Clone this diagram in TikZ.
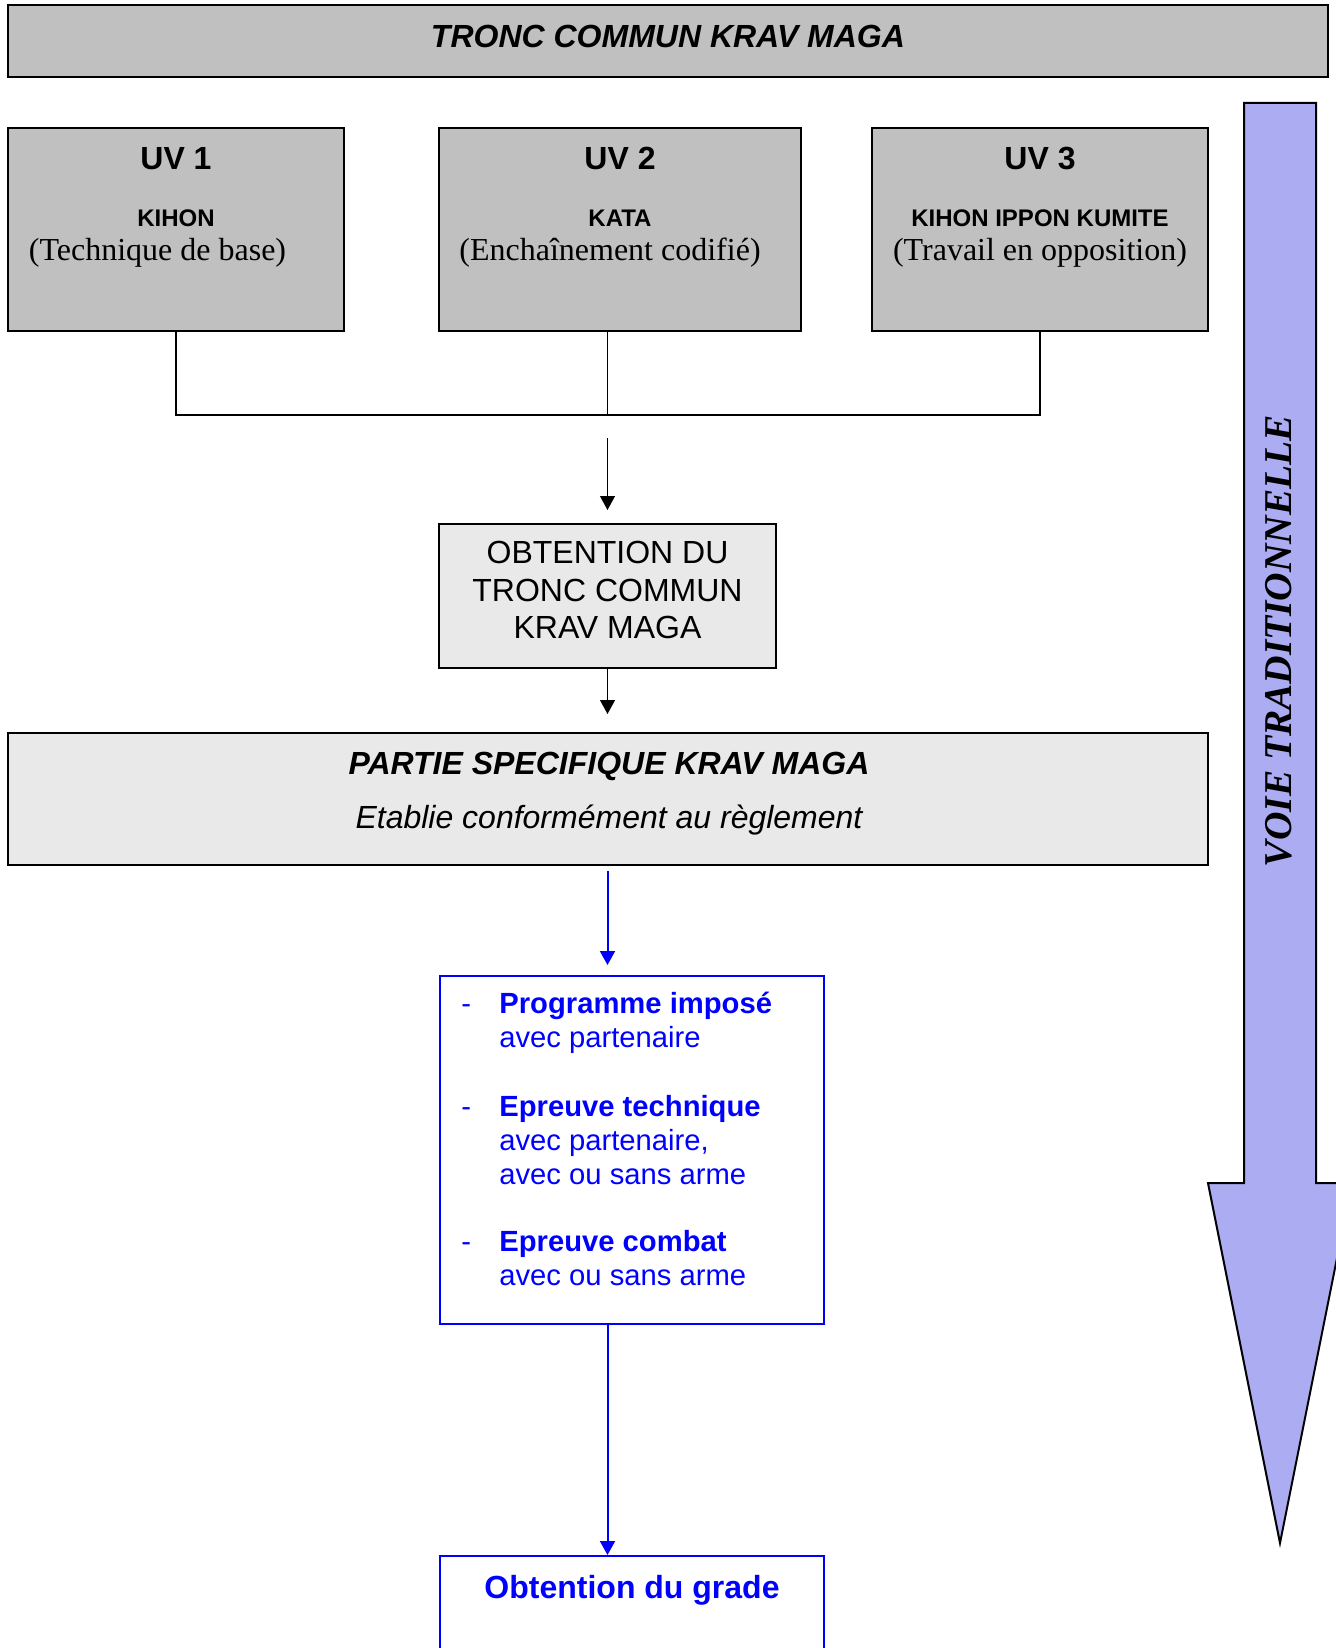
\documentclass[tikz,border=0pt]{standalone}
\usepackage{fontspec}
\setmainfont{Liberation Serif}
\setsansfont{Liberation Sans}
\usetikzlibrary{fit,arrows.meta}

\definecolor{grisfonce}{RGB}{192,192,192}
\definecolor{grisclair}{RGB}{233,233,233}
\definecolor{bleuvoie}{RGB}{172,172,243}

\tikzset{
  boitegrise/.style={draw=black, line width=1pt, fill=grisfonce, inner sep=0pt},
  boiteclaire/.style={draw=black, line width=1pt, fill=grisclair, inner sep=0pt},
  boitebleue/.style={draw=blue, line width=1pt, inner sep=0pt},
  fleche/.style={-{Triangle[length=7pt,width=7.5pt]}, line width=0.65pt},
  flechebleue/.style={blue, -{Triangle[length=7pt,width=7.5pt]}, line width=1pt},
  uvtitre/.style={anchor=base, inner sep=0pt, font={\sffamily\bfseries\fontsize{16}{19}\selectfont}},
  uvnom/.style={anchor=base, inner sep=0pt, font={\sffamily\bfseries\fontsize{12}{14}\selectfont}},
  uvdetail/.style={anchor=base, inner sep=0pt, font={\fontsize{16}{19}\selectfont}},
  titrebleu/.style={anchor=base west, inner sep=0pt, blue, font={\sffamily\bfseries\fontsize{14.6}{17}\selectfont}},
  textebleu/.style={anchor=base west, inner sep=0pt, blue, font={\sffamily\fontsize{14.6}{17}\selectfont}},
}

\begin{document}
\begin{tikzpicture}[x=0.5pt,y=-0.5pt]
\useasboundingbox (0,0) rectangle (1335,1648);

% bandeau du haut
\node[boitegrise, line width=1.25pt, fit={(8,5) (1328,77)}] (titre) {};
\node[anchor=base, inner sep=0pt, font={\sffamily\bfseries\itshape\fontsize{16}{19}\selectfont}] (titre-txt) at (668,48) {TRONC COMMUN KRAV MAGA};

% les trois UV
\foreach \i/\xa/\xb/\xd/\nom/\detail in {1/8/344/157.5/KIHON/Technique de base, 2/439/801/610/KATA/Enchaînement codifié, 3/872/1208/1040/KIHON IPPON KUMITE/Travail en opposition} {
\pgfmathsetmacro{\xc}{(\xa+\xb)/2}
\node[boitegrise, fit={(\xa,128) (\xb,331)}] (uv\i) {};
\node[uvtitre] (uv\i-titre) at (\xc,170) {UV \i};
\node[uvnom] (uv\i-nom) at (\xc,227) {\nom};
\node[uvdetail] (uv\i-detail) at (\xd,261) {(\detail)};
}

% tronc commun
\node[boiteclaire, fit={(439,524) (776,668)}] (obt) {};
\node[align=center, font={\sffamily\fontsize{16}{18.75}\selectfont}] (obt-txt) at (607.5,590) {OBTENTION DU\\TRONC COMMUN\\KRAV MAGA};

\coordinate (jonction) at (607.5,415);
\coordinate (depart) at (607.5,438);
\draw[line width=0.8pt] (uv1.south) -- (uv1.south |- jonction) -- (uv3.south |- jonction) -- (uv3.south);
\draw[line width=0.8pt] (jonction |- uv2.south) -- (jonction);
\draw[fleche, shorten >=6.5pt] (depart) -- (obt.north);

% partie specifique
\node[boiteclaire, fit={(8,733) (1208,865)}] (partie) {};
\node[anchor=base, inner sep=0pt, font={\sffamily\bfseries\itshape\fontsize{16}{19}\selectfont}] (partie-titre) at (609,774) {PARTIE SPECIFIQUE KRAV MAGA};
\node[anchor=base, inner sep=0pt, font={\sffamily\itshape\fontsize{16}{19}\selectfont}] (partie-txt) at (609,828) {Etablie conformément au règlement};
\draw[fleche, shorten >=9pt] (obt.south) -- (obt.south |- partie.north);

% epreuves
\node[boitebleue, fit={(440,976) (824,1324)}] (liste) {};
\foreach \y/\txt [count=\k] in {1013/Programme imposé, 1116/Epreuve technique, 1251/Epreuve combat} {
\node[textebleu] (tiret\k) at (461,\y) {-};
\node[titrebleu] (epreuve\k) at (499,\y) {\txt};
}
\foreach \y/\txt [count=\k] in {1047/avec partenaire, 1150/{avec partenaire,}, 1184/avec ou sans arme, 1285/avec ou sans arme}
\node[textebleu] (precision\k) at (499,\y) {\txt};
\draw[flechebleue, shorten <=2.5pt, shorten >=5pt] (partie.south -| jonction) -- (liste.north -| jonction);

% grade
\node[boitebleue, fit={(440,1556) (824,1700)}] (grade) {};
\node[anchor=base, inner sep=0pt, blue, font={\sffamily\bfseries\fontsize{16}{19}\selectfont}] (grade-txt) at (632,1598) {Obtention du grade};
\draw[flechebleue] (liste.south -| jonction) -- (grade.north -| jonction);

% fleche voie traditionnelle
\draw[line width=1pt, fill=bleuvoie] (1244,103) -- (1316,103) -- (1316,1183) -- (1352,1183)
  -- (1280,1543) -- (1208,1183) -- (1244,1183) -- cycle;
\node[rotate=90, font={\bfseries\itshape\fontsize{19.7}{23}\selectfont}] (voie) at (1279,641) {VOIE TRADITIONNELLE};
\end{tikzpicture}
\end{document}
